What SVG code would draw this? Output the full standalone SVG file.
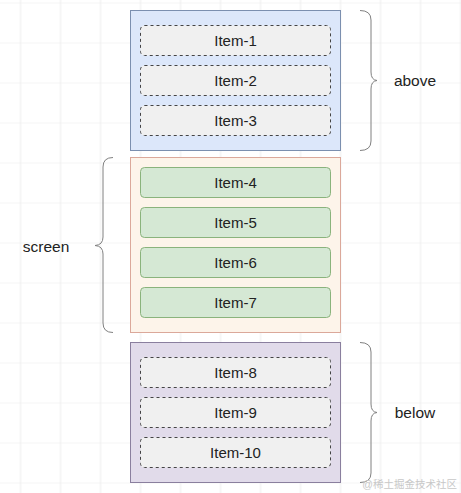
<svg xmlns="http://www.w3.org/2000/svg" width="461" height="493" viewBox="0 0 461 493">
<defs>
<pattern id="grid" x="0.5" y="2.5" width="40" height="40" patternUnits="userSpaceOnUse">
<path d="M20 0 V40 M0 0 H40" fill="none" stroke="#ececec" stroke-width="1"/>
</pattern>
</defs>
<style>
.lbl{font-family:"Liberation Sans",Arial,sans-serif;font-size:15px;fill:#222;text-anchor:middle}
.item{fill:#f0f0f0;stroke:#444;stroke-width:1;stroke-dasharray:3 3}
.green{fill:#d5e8d4;stroke:#8ab37c;stroke-width:1}
.brace{fill:none;stroke:#808080;stroke-width:1}
</style>
<rect width="461" height="493" fill="#ffffff"/>
<rect width="461" height="493" fill="url(#grid)"/>

<g id="above-group">
<rect x="130.5" y="10.5" width="210" height="140" fill="#dce7fa" stroke="#7b8faf"/>
</g>
<g id="item-1"><rect class="item" x="140.5" y="25.5" width="190" height="30" rx="4"/><text class="lbl" x="235.5" y="46">Item-1</text></g>
<g id="item-2"><rect class="item" x="140.5" y="65.5" width="190" height="30" rx="4"/><text class="lbl" x="235.5" y="86">Item-2</text></g>
<g id="item-3"><rect class="item" x="140.5" y="105.5" width="190" height="30" rx="4"/><text class="lbl" x="235.5" y="126">Item-3</text></g>

<g id="screen-group">
<rect x="130.5" y="157.5" width="210" height="175" fill="#fdf4ea" stroke="#dba89a"/>
</g>
<g id="item-4"><rect class="green" x="140.5" y="167.5" width="190" height="30" rx="4"/><text class="lbl" x="235.5" y="188">Item-4</text></g>
<g id="item-5"><rect class="green" x="140.5" y="207.5" width="190" height="30" rx="4"/><text class="lbl" x="235.5" y="228">Item-5</text></g>
<g id="item-6"><rect class="green" x="140.5" y="247.5" width="190" height="30" rx="4"/><text class="lbl" x="235.5" y="268">Item-6</text></g>
<g id="item-7"><rect class="green" x="140.5" y="287.5" width="190" height="30" rx="4"/><text class="lbl" x="235.5" y="308">Item-7</text></g>

<g id="below-group">
<rect x="130.5" y="342.5" width="210" height="140" fill="#e1dbea" stroke="#8a7f9e"/>
</g>
<g id="item-8"><rect class="item" x="140.5" y="357.5" width="190" height="30" rx="4"/><text class="lbl" x="235.5" y="378">Item-8</text></g>
<g id="item-9"><rect class="item" x="140.5" y="397.5" width="190" height="30" rx="4"/><text class="lbl" x="235.5" y="418">Item-9</text></g>
<g id="item-10"><rect class="item" x="140.5" y="437.5" width="190" height="30" rx="4"/><text class="lbl" x="235.5" y="458">Item-10</text></g>

<g id="connectors">
<path class="brace" d="M360 10.5 Q371 10.5 371 20 L371 72 Q371 80 377 80.5 Q371 81 371 89 L371 141 Q371 150.5 360 150.5"/>
<path class="brace" d="M113 157.5 Q103 157.5 103 167 L103 237 Q103 245 95 245.5 Q103 246 103 254 L103 323 Q103 332.5 113 332.5"/>
<path class="brace" d="M360 342.5 Q371 342.5 371 352 L371 404 Q371 412 377 412.5 Q371 413 371 421 L371 473 Q371 482.5 360 482.5"/>
</g>

<g id="label-above"><text class="lbl" x="415" y="86" style="font-size:15.5px">above</text></g>
<g id="label-screen"><text class="lbl" x="46" y="252" style="font-size:15.5px">screen</text></g>
<g id="label-below"><text class="lbl" x="415" y="418" style="font-size:15.5px">below</text></g>

<text x="457" y="488" style="font-family:'Liberation Sans','Noto Sans CJK SC',sans-serif;font-size:10.5px;fill:#c8c8c8;text-anchor:end">@稀土掘金技术社区</text>
</svg>
